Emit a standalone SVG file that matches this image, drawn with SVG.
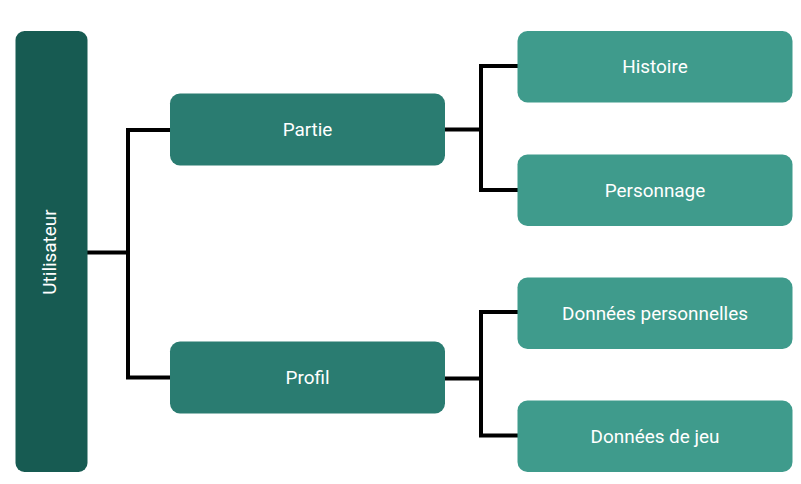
<svg xmlns="http://www.w3.org/2000/svg" width="801" height="484" viewBox="0 0 801 484">
<style>
.root{fill:#175B52}
.mid{fill:#2A7C71}
.leaf{fill:#3F9B8C}
.lbl{font-family:Roboto,"Liberation Sans",sans-serif;font-size:18.9px;fill:#FFFFFF;text-anchor:middle}
.conn{fill:none;stroke:#000000;stroke-width:4;stroke-linecap:square;stroke-linejoin:miter}
</style>
<rect width="801" height="484" fill="#FFFFFF"/>
<g id="connectors">
<path class="conn" d="M89 252.5 H128 M128 130 V377.5 M128 130 H170 M128 377.5 H170"/>
<path class="conn" d="M446 129.5 H481 M481 66 V190 M481 66 H516 M481 190 H516"/>
<path class="conn" d="M446 378.5 H481 M481 312 V435.5 M481 312 H516 M481 435.5 H516"/>
</g>
<g id="utilisateur">
<rect class="root" x="15.5" y="31" width="72" height="441" rx="9"/>
<text class="lbl" transform="translate(55.8 252) rotate(-90)">Utilisateur</text>
</g>
<g id="partie">
<rect class="mid" x="170" y="93.5" width="275" height="72" rx="10"/>
<text class="lbl" x="307.5" y="136.2">Partie</text>
</g>
<g id="profil">
<rect class="mid" x="170" y="341.5" width="275" height="72" rx="10"/>
<text class="lbl" x="307.5" y="384.2">Profil</text>
</g>
<g id="histoire">
<rect class="leaf" x="517.5" y="31" width="275" height="71.5" rx="10"/>
<text class="lbl" x="655" y="73.4">Histoire</text>
</g>
<g id="personnage">
<rect class="leaf" x="517.5" y="154.5" width="275" height="71.5" rx="10"/>
<text class="lbl" x="655" y="196.9">Personnage</text>
</g>
<g id="donnees-personnelles">
<rect class="leaf" x="517.5" y="277.5" width="275" height="71.5" rx="10"/>
<text class="lbl" x="655" y="319.9">Données personnelles</text>
</g>
<g id="donnees-de-jeu">
<rect class="leaf" x="517.5" y="400.5" width="275" height="71.5" rx="10"/>
<text class="lbl" x="655" y="442.9">Données de jeu</text>
</g>
</svg>
